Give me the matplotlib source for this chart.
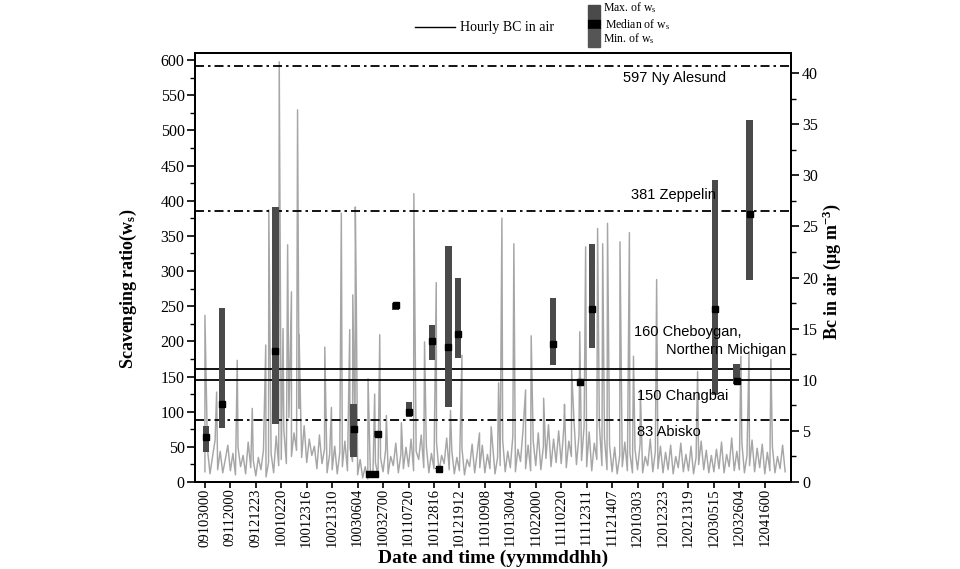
import matplotlib
matplotlib.use('Agg')
import matplotlib.pyplot as plt
from matplotlib.patches import Rectangle
from matplotlib.ticker import MultipleLocator
import numpy as np

plt.rcParams['font.family'] = ['Liberation Serif', 'DejaVu Serif']
plt.rcParams['mathtext.fontset'] = 'custom'
plt.rcParams['mathtext.rm'] = 'Liberation Serif'
plt.rcParams['mathtext.it'] = 'Liberation Serif:italic'
plt.rcParams['mathtext.bf'] = 'Liberation Serif:bold'

# x axis: one unit = one labelled tick step
tick_labels = ['09103000', '09112000', '09121223', '10010220', '10012316',
               '10021310', '10030604', '10032700', '10110720', '10112816',
               '10121912', '11010908', '11013004', '11022000', '11110220',
               '11112311', '11121407', '12010303', '12012323', '12021319',
               '12030515', '12032604', '12041600']

# scavenging ratio statistics per event
event_x = [0.04, 0.67, 2.77, 5.85, 6.43, 6.70, 6.79, 7.49, 8.02, 8.92, 9.18,
           9.57, 9.94, 13.68, 14.75, 15.21, 20.04, 20.90, 21.40]
ws_max = [80, 247, 391, 111, 11, 11, 72, 255, 114, 223, 20, 335, 290, 261,
          147, 339, 430, 168, 515]
ws_med = [64, 111, 186, 75, 11, 11, 68, 252, 100, 200, 19, 192, 211, 196,
          142, 246, 246, 144, 381]
ws_min = [43, 77, 83, 35, 11, 11, 64, 245, 92, 173, 19, 106, 177, 166,
          137, 191, 124, 140, 287]

# reference sites (value drawn, style)
ref_values = [592, 385, 161, 145, 88]
ref_styles = ['dashdot', 'dashdot', 'solid', 'solid', 'dashdot']

# hourly BC in air (ug m-3): background read every 0.1 tick step
bc_base = [
    1.0, 3.2, 0.8, 2.5, 4.1, 1.2, 3.0, 0.9, 2.2, 3.6,
    1.1, 2.8, 0.7, 3.4, 1.5, 2.6, 0.8, 3.9, 1.4, 2.1,
    0.6, 2.4, 1.2, 3.1, 0.5, 1.9, 2.8, 0.9, 4.5, 1.6,
    2.2, 5.1, 1.8, 6.3, 2.5, 4.8, 3.1, 7.2, 2.4, 5.5,
    1.9, 4.2, 2.6, 3.5, 1.3, 4.6, 1.8, 3.2, 0.9, 2.7,
    1.2, 3.5, 0.8, 2.9, 1.5, 4.0, 1.1, 3.3, 2.0, 4.4,
    0.7, 2.2, 0.4, 1.5, 0.3, 1.1, 0.5, 1.9, 0.6, 2.4,
    1.0, 3.1, 0.8, 2.5, 1.6, 3.8, 0.9, 2.7, 1.3, 3.4,
    1.5, 4.2, 1.1, 3.0, 2.2, 4.6, 1.4, 3.5, 0.9, 2.8,
    1.3, 3.9, 1.0, 2.6, 1.8, 4.3, 1.2, 3.1, 0.8, 2.4,
    1.1, 3.3, 0.7, 2.2, 1.5, 3.7, 0.9, 2.9, 1.4, 3.6,
    0.9, 2.7, 1.3, 3.8, 0.8, 2.4, 1.6, 4.1, 1.0, 3.0,
    1.4, 4.5, 1.0, 3.2, 2.0, 5.1, 1.3, 3.6, 1.1, 4.0,
    1.6, 4.8, 1.2, 3.5, 2.3, 5.6, 1.5, 4.2, 1.9, 5.0,
    1.8, 5.2, 1.4, 4.0, 2.5, 6.1, 1.7, 4.6, 2.1, 5.4,
    1.5, 4.9, 1.1, 3.8, 2.2, 5.5, 1.6, 4.3, 1.2, 3.6,
    1.0, 3.4, 0.8, 2.6, 1.5, 3.9, 1.1, 2.8, 0.9, 3.2,
    1.2, 3.7, 0.9, 2.5, 1.6, 4.2, 1.0, 3.0, 1.3, 3.5,
    0.9, 2.9, 1.2, 3.6, 0.8, 2.5, 1.4, 3.8, 1.0, 2.7,
    1.1, 3.5, 0.8, 2.4, 1.7, 4.0, 1.2, 3.1, 0.9, 2.6,
    1.0, 3.2, 1.3, 3.9, 0.9, 2.7, 1.5, 4.3, 1.1, 3.0,
    1.2, 3.8, 0.9, 2.6, 1.6, 4.1, 1.0, 3.3, 1.4, 3.7,
    0.8, 2.9, 1.1, 3.4, 0.9, 2.5, 1.3, 3.6, 1.0,
]
# isolated hourly peaks
spike_x = [0.00, 0.46, 1.27, 1.86, 2.39, 2.51, 2.92, 3.07, 3.25, 3.40, 3.64,
           3.70, 4.71, 4.97, 5.36, 5.69, 5.81, 5.91, 5.95, 6.41, 6.67, 6.87,
           7.13, 7.72, 8.21, 8.63, 9.09, 9.65, 10.10, 10.79, 11.25, 11.54,
           11.67, 12.14, 12.60, 12.82, 13.31, 14.13, 14.41, 14.73, 14.96,
           15.43, 15.63, 15.82, 16.31, 16.68, 16.84, 17.11, 17.75, 19.36,
           21.06, 21.38, 22.24]
spike_bc = [16.3, 8.8, 11.9, 7.2, 13.4, 26.6, 41.1, 15.0, 23.2, 18.6, 36.4,
            14.4, 13.2, 7.3, 26.3, 14.9, 18.3, 26.9, 17.5, 10.1, 8.6, 14.4,
            6.5, 5.8, 28.2, 13.7, 19.5, 7.0, 12.4, 4.8, 5.4, 9.7, 25.8, 23.3,
            9.0, 14.3, 8.2, 7.6, 11.0, 14.7, 23.0, 24.8, 23.3, 25.3, 23.5,
            24.4, 12.3, 9.0, 19.8, 10.8, 12.3, 12.6, 12.0]

base_x = np.arange(len(bc_base)) * 0.1
bc_x = np.concatenate([base_x, spike_x])
bc_y = np.concatenate([bc_base, spike_bc])
order = np.argsort(bc_x, kind='stable')
bc_x, bc_y = bc_x[order], bc_y[order]

fig = plt.figure(figsize=(9.6, 5.69), dpi=100, facecolor='white')
ax = fig.add_axes([195 / 960, 87 / 569, 596 / 960, 429 / 569])
ax2 = ax.twinx()

# BC line on the right axis, kept below the left-axis marks
ax2.plot(bc_x, bc_y, color='#a6a6a6', linewidth=1.05)
ax2.set_ylim(0, 41.96)
ax.set_zorder(ax2.get_zorder() + 1)
ax.patch.set_visible(False)

# reference sites
for v, ls in zip(ref_values, ref_styles):
    if ls == 'dashdot':
        ax.axhline(v, color='black', linewidth=1.3, linestyle=(0, (5, 2.2, 1.4, 2.2)))
    else:
        ax.axhline(v, color='black', linewidth=1.3)

# min-max bars and medians
heights = [mx - mn for mx, mn in zip(ws_max, ws_min)]
ax.bar(event_x, heights, bottom=ws_min, width=0.26, color='#4a4a4a', zorder=3)
ax.plot(event_x, ws_med, 's', color='black', markersize=4.8, zorder=4)

site_font = dict(family=['Liberation Sans', 'DejaVu Sans'], fontsize=10.5,
                 va='center', ha='left', zorder=5)
ax.text(16.44, 574, '597 Ny Alesund', **site_font)
ax.text(16.75, 408, '381 Zeppelin', **site_font)
ax.text(16.87, 213, '160 Cheboygan,', **site_font)
ax.text(18.13, 188, 'Northern Michigan', **site_font)
ax.text(16.99, 122, '150 Changbai', **site_font)
ax.text(16.99, 71, '83 Abisko', **site_font)

# axes
ax.set_xlim(-0.39, 23.03)
ax.set_ylim(0, 610)
ax.set_xticks(range(len(tick_labels)))
ax.set_xticklabels(tick_labels, rotation=90, fontsize=10.5)
ax.yaxis.set_major_locator(MultipleLocator(50))
ax.yaxis.set_minor_locator(MultipleLocator(25))
ax2.yaxis.set_major_locator(MultipleLocator(5))
ax2.yaxis.set_minor_locator(MultipleLocator(2.5))
ax.tick_params(axis='y', direction='out', length=6, width=1.2, pad=1.5, labelsize=11.5)
ax.tick_params(axis='y', which='minor', direction='out', length=3.5, width=1.0)
ax.tick_params(axis='x', direction='out', length=4, width=1.2, pad=0.5)
ax2.tick_params(axis='y', direction='out', length=6, width=1.2, pad=2, labelsize=11.5)
ax2.tick_params(axis='y', which='minor', direction='out', length=3.5, width=1.0)
for a in (ax, ax2):
    for s in a.spines.values():
        s.set_linewidth(1.4)

ax.set_ylabel(r'Scavenging ratio(w$_\mathbf{s}$)', fontsize=13, fontweight='bold')
ax.yaxis.set_label_coords(-0.094, 0.45)
ax2.set_ylabel(r'Bc in air ($\mathbf{\mu}$g m$^{\mathbf{-3}}$)', fontsize=13, fontweight='bold')
ax2.yaxis.set_label_coords(1.049, 0.49)
ax.set_xlabel('Date and time (yymmddhh)', fontsize=14, fontweight='bold')
ax.xaxis.set_label_coords(0.5, -0.157)

# legend drawn in pixel space above the plot
leg = fig.add_axes([0, 0, 1, 1], zorder=10)
leg.set_xlim(0, 960)
leg.set_ylim(569, 0)
leg.axis('off')
leg.plot([415, 455], [27, 27], color='black', linewidth=1.0)
leg.text(460, 27, 'Hourly BC in air', fontsize=10, va='center')
leg.add_patch(Rectangle((588, 5), 12, 15, color='#4a4a4a'))
leg.add_patch(Rectangle((588, 20), 12, 9, color='black'))
leg.add_patch(Rectangle((588, 29), 12, 18, color='#555555'))
leg.text(603, 8, r'Max. of w$_\mathrm{s}$', fontsize=8.5, va='center')
leg.text(605, 25, r'Median of w$_\mathrm{s}$', fontsize=8.5, va='center')
leg.text(603, 39, r'Min. of w$_\mathrm{s}$', fontsize=8.5, va='center')

fig.savefig('out.png', dpi=100, facecolor='white')
plt.close(fig)
